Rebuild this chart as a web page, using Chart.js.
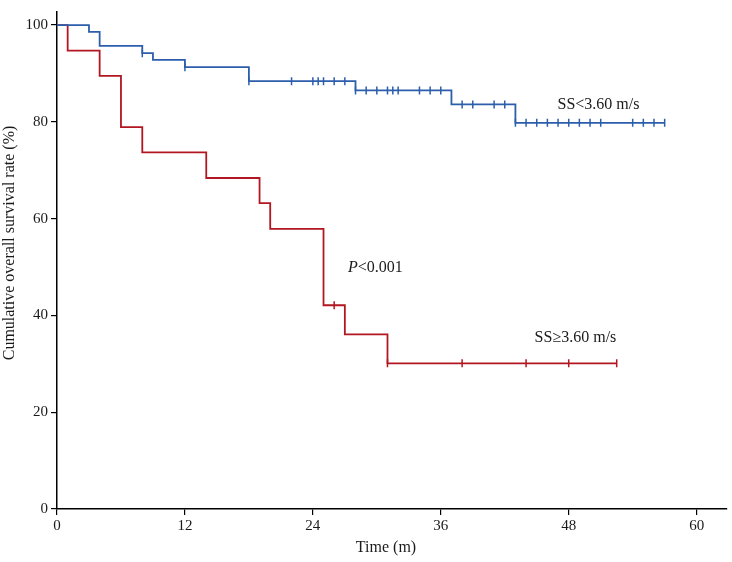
<!DOCTYPE html>
<html>
<head>
<meta charset="utf-8">
<script src="https://cdn.jsdelivr.net/npm/chart.js@4/dist/chart.umd.min.js"></script>
<style>
  html, body { margin: 0; padding: 0; background: #fff; }
  #wrap { width: 732px; height: 562px; }
</style>
</head>
<body>
<div id="wrap"><canvas id="kmChart"></canvas></div>
<script>
// Kaplan-Meier steps, time in months, survival in %
const lowTimes = [0, 3, 4, 8, 9, 12, 18, 28, 37, 43, 57];
const lowSurv = [100, 98.6, 95.7, 94.2, 92.8, 91.3, 88.4, 86.5, 83.6, 79.8, 79.8];
const lowCensored = [8, 12, 18, 22, 24, 24.5, 25, 26, 27, 28, 29, 30, 31, 31.5, 32, 34, 35, 36,
  38, 39, 41, 42, 43, 44, 45, 46, 47, 48, 49, 50, 51, 54, 55, 56, 57];

const highTimes = [0, 1, 4, 6, 8, 14, 19, 20, 25, 27, 31, 52.5];
const highSurv = [100, 94.7, 89.5, 78.9, 73.7, 68.4, 63.2, 57.9, 42.1, 36.1, 30.1, 30.1];
const highCensored = [26, 31, 38, 44, 48, 52.5];

const xTicks = [0, 12, 24, 36, 48, 60];
const yTicks = [0, 20, 40, 60, 80, 100];

const blue = 'rgb(44, 94, 172)';
const red = 'rgb(178, 22, 32)';

const toPoints = (xs, ys) => xs.map((x, i) => ({ x: x, y: ys[i] }));

// survival value of a step curve at time t
const survAt = (xs, ys, t) => {
  let s = ys[0];
  for (let i = 0; i < xs.length; i++) {
    if (xs[i] <= t) s = ys[i];
  }
  return s;
};

const censorPoints = (cs, xs, ys) => cs.map(t => ({ x: t, y: survAt(xs, ys, t) }));

const serif = '"Liberation Serif", "DejaVu Serif", serif';

const textPlugin = {
  id: 'kmText',
  afterDraw(chart) {
    const ctx = chart.ctx;
    const xs = chart.scales.x;
    const ys = chart.scales.y;
    ctx.save();
    ctx.fillStyle = '#1a1a1a';
    ctx.textBaseline = 'middle';
    ctx.textAlign = 'left';
    ctx.font = '16px ' + serif;
    ctx.fillText('SS<3.60 m/s', xs.getPixelForValue(46.95), ys.getPixelForValue(83.6));
    ctx.fillText('SS\u22653.60 m/s', xs.getPixelForValue(44.8), ys.getPixelForValue(35.4));
    // P<0.001 with italic P
    const px = xs.getPixelForValue(27.3);
    const py = ys.getPixelForValue(49.8);
    ctx.font = 'italic 16px ' + serif;
    ctx.fillText('P', px, py);
    const pw = ctx.measureText('P').width;
    ctx.font = '16px ' + serif;
    ctx.fillText('<0.001', px + pw, py);

    // axis titles
    ctx.textAlign = 'center';
    ctx.font = '16px ' + serif;
    ctx.fillText('Time (m)', 386, 548);
    ctx.translate(10, 243);
    ctx.rotate(-Math.PI / 2);
    ctx.fillText('Cumulative overall survival rate (%)', 0, 0);
    ctx.restore();
  }
};

const ctx = document.getElementById('kmChart').getContext('2d');
const kmChart = new Chart(ctx, {
  type: 'line',
  data: {
    datasets: [{
      label: 'SS<3.60 m/s',
      data: toPoints(lowTimes, lowSurv),
      borderColor: blue,
      borderWidth: 1.8,
      stepped: 'before',
      pointRadius: 0,
      fill: false
    }, {
      label: 'SS\u22653.60 m/s',
      data: toPoints(highTimes, highSurv),
      borderColor: red,
      borderWidth: 1.8,
      stepped: 'before',
      pointRadius: 0,
      fill: false
    }, {
      label: 'censored low',
      data: censorPoints(lowCensored, lowTimes, lowSurv),
      showLine: false,
      pointStyle: 'line',
      rotation: 90,
      pointRadius: 4,
      borderColor: blue,
      borderWidth: 1.5
    }, {
      label: 'censored high',
      data: censorPoints(highCensored, highTimes, highSurv),
      showLine: false,
      pointStyle: 'line',
      rotation: 90,
      pointRadius: 4,
      borderColor: red,
      borderWidth: 1.5
    }]
  },
  options: {
    responsive: true,
    maintainAspectRatio: false,
    animation: false,
    layout: { padding: { top: 0, right: 0, left: 0, bottom: 0 } },
    plugins: {
      legend: { display: false },
      tooltip: { enabled: false }
    },
    scales: {
      x: {
        type: 'linear',
        min: 0,
        max: 62.8,
        afterBuildTicks: (axis) => { axis.ticks = xTicks.map(v => ({ value: v })); },
        afterFit: (axis) => { axis.height = 53; },
        grid: { drawOnChartArea: false, drawTicks: true, tickLength: 6, color: '#000', lineWidth: 1.2 },
        border: { display: true, color: '#000', width: 1.5 },
        ticks: { color: '#1a1a1a', font: { family: serif, size: 15 }, padding: 2, maxRotation: 0 }
      },
      y: {
        min: 0,
        max: 102.7,
        afterBuildTicks: (axis) => { axis.ticks = yTicks.map(v => ({ value: v })); },
        afterFit: (axis) => { axis.width = 57; },
        grid: { drawOnChartArea: false, drawTicks: true, tickLength: 6, color: '#000', lineWidth: 1.2 },
        border: { display: true, color: '#000', width: 1.5 },
        ticks: { color: '#1a1a1a', font: { family: serif, size: 15 }, padding: 3 }
      }
    }
  },
  plugins: [textPlugin]
});
</script>
</body>
</html>
